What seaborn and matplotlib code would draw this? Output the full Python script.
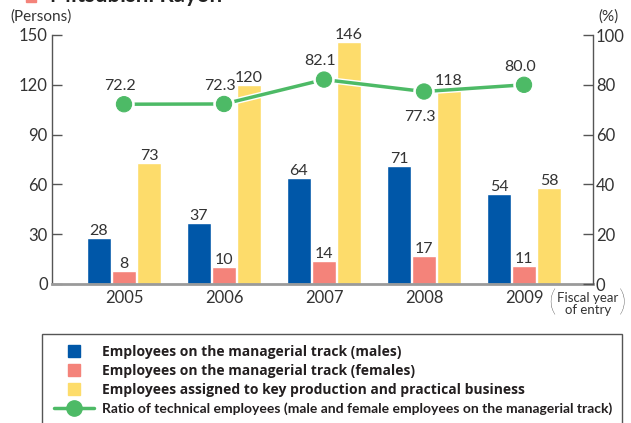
import matplotlib
matplotlib.use("Agg")
import matplotlib.pyplot as plt
import matplotlib.patheffects as pe
from matplotlib.patches import Rectangle
from matplotlib.lines import Line2D
from matplotlib.font_manager import FontProperties
import seaborn as sns
import pandas as pd

# Data
years = ["2005", "2006", "2007", "2008", "2009"]
males = [28, 37, 64, 71, 54]
females = [8, 10, 14, 17, 11]
key_production = [73, 120, 146, 118, 58]
tech_ratio = [72.2, 72.3, 82.1, 77.3, 80.0]

series_names = [
    "Employees on the managerial track (males)",
    "Employees on the managerial track (females)",
    "Employees assigned to key production and practical business",
]
ratio_name = "Ratio of technical employees (male and female employees on the managerial track)"

BLUE = "#0057A8"
PINK = "#F4837A"
YELLOW = "#FDDC6B"
GREEN = "#4DBA66"
TXT = "#333333"
DARK = "#231F20"

sns.set_style("white")
plt.rcParams["font.family"] = ["Lato", "DejaVu Sans"]

df = pd.DataFrame({
    "year": years * 3,
    "value": males + females + key_production,
    "series": sum([[s] * len(years) for s in series_names], []),
})

W, H = 631, 423
fig = plt.figure(figsize=(W / 100, H / 100), dpi=100)
ax = fig.add_axes([52 / W, 1 - 284 / H, (593 - 52) / W, (284 - 35) / H])

sns.barplot(data=df, x="year", y="value", hue="series", order=years,
            hue_order=series_names, palette=[BLUE, PINK, YELLOW],
            width=0.75, gap=0.04, saturation=1, errorbar=None,
            legend=False, ax=ax, zorder=2)

for cont in ax.containers:
    ax.bar_label(cont, padding=0, fontsize=11.5, color=TXT)

ax.set_xlim(-0.72, 4.69)
ax.set_ylim(0, 150)
ax.set_yticks([0, 30, 60, 90, 120, 150])
ax.set_xlabel("")
ax.set_ylabel("")
ax.tick_params(axis="y", direction="in", length=7, width=1, color="#555555",
               labelsize=12, labelcolor=TXT, pad=3)
ax.tick_params(axis="x", length=0, labelsize=12, labelcolor=TXT, pad=4)
for s in ["top", "right"]:
    ax.spines[s].set_visible(False)
ax.spines["left"].set_color("#555555")
ax.spines["left"].set_linewidth(1)
ax.spines["bottom"].set_color("#9a9a9a")
ax.spines["bottom"].set_linewidth(2)

# Ratio line on the secondary axis
ax2 = ax.twinx()
positions = list(range(len(years)))
sns.lineplot(x=positions, y=tech_ratio, ax=ax2, color=GREEN, linewidth=2.5,
             marker="o", markersize=11, markeredgecolor=GREEN,
             path_effects=[pe.Stroke(linewidth=4.5, foreground="white"), pe.Normal()])
ax2.set_ylim(0, 100)
ax2.set_xlim(-0.72, 4.69)
ax2.set_yticks([0, 20, 40, 60, 80, 100])
ax2.tick_params(axis="y", direction="in", length=7, width=1, color="#555555",
                labelsize=12, labelcolor=TXT, pad=2)
for s in ["top", "left", "bottom"]:
    ax2.spines[s].set_visible(False)
ax2.spines["right"].set_color("#555555")
ax2.spines["right"].set_linewidth(1)

for x, v in zip(positions, tech_ratio):
    below = v == 77.3
    ax2.annotate(f"{v:.1f}", (x, v), xytext=(-3, -13 if below else 8),
                 textcoords="offset points", ha="center",
                 va="top" if below else "bottom", fontsize=11.5, color=TXT)

# Axis unit labels
fig.text(10 / W, 1 - 17 / H, "(Persons)", fontsize=11, color=TXT, va="center", ha="left")
fig.text(598 / W, 1 - 17 / H, "(%)", fontsize=11, color=TXT, va="center", ha="left")
fig.text(548 / W, 1 - 303 / H, "(", fontsize=21, color=TXT, va="center", ha="left",
         fontweight="light")
fig.text(626 / W, 1 - 303 / H, ")", fontsize=21, color=TXT, va="center", ha="right",
         fontweight="light")
fig.text(588 / W, 1 - 304 / H, "Fiscal year\nof entry", fontsize=9.5, color=TXT,
         va="center", ha="center", linespacing=0.95)

# Title strip at the top edge
fig.patches.append(Rectangle((26 / W, 1 - 2.5 / H), 10 / W, 12 / H,
                             transform=fig.transFigure, color=PINK))
fig.text(50 / W, 1 - 2 / H, "Mitsubishi Rayon", fontsize=16, fontweight="bold",
         color="#222222", va="baseline", ha="left")

# Legend box
fig.patches.append(Rectangle((42 / W, 1 - 440 / H), (622 - 42) / W, (440 - 334) / H,
                             transform=fig.transFigure, facecolor="white",
                             edgecolor="#555555", linewidth=1))
handles = [Line2D([], [], linestyle="none", marker="s", markersize=8.7,
                  markerfacecolor=c, markeredgecolor=c) for c in (BLUE, PINK, YELLOW)]
handles.append(Line2D([], [], color=GREEN, linewidth=2.5, marker="o",
                      markersize=11, markeredgecolor=GREEN))
leg = fig.legend(handles, series_names + [ratio_name], loc="upper left",
                 bbox_to_anchor=(54 / W, 1 - 345 / H), frameon=False,
                 handlelength=2.9, handletextpad=0.55, labelspacing=0.36,
                 borderaxespad=0, borderpad=0,
                 prop={"weight": "bold", "size": 10})
wide = FontProperties(family="Open Sans", weight="bold", size=10)
narrow = FontProperties(family="Lato", weight="bold", size=10)
for i, t in enumerate(leg.get_texts()):
    t.set_fontproperties(narrow if i == 3 else wide)
    t.set_color(DARK)

fig.savefig("out.png", dpi=100)
